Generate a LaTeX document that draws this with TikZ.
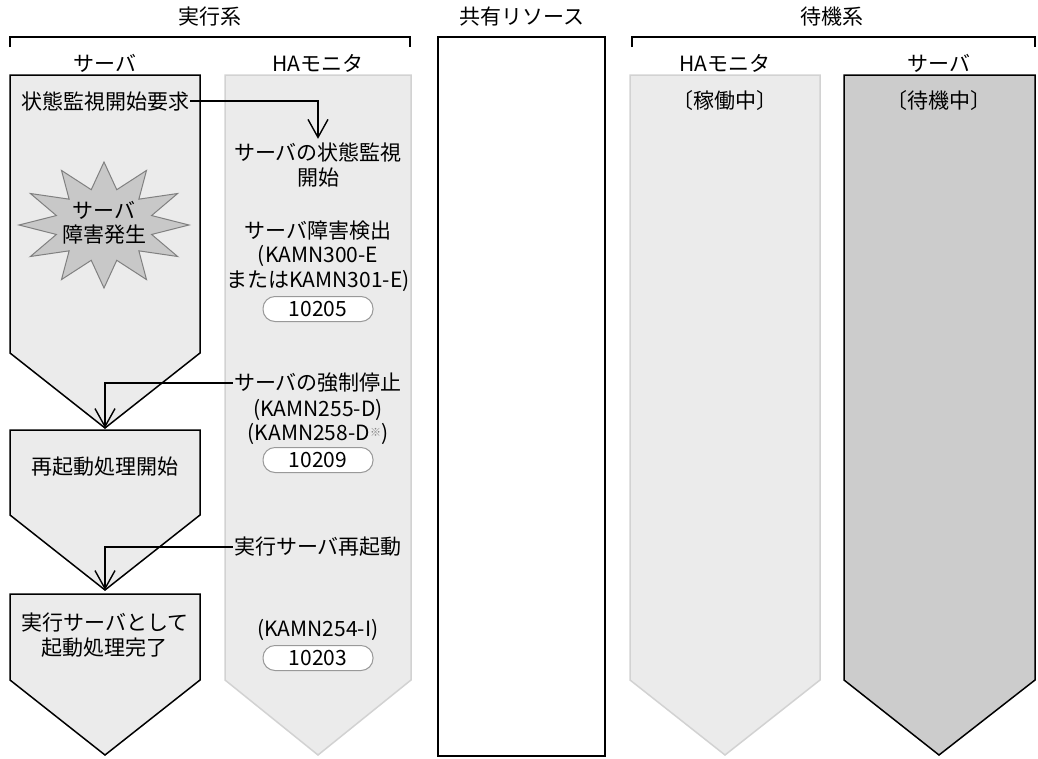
\documentclass[tikz,border=0pt]{standalone}
\usepackage{fontspec}
\setmainfont{Noto Sans CJK JP}
\usetikzlibrary{arrows.meta,positioning}
\definecolor{PaleGray}{RGB}{235,235,235}
\definecolor{EdgeGray}{RGB}{210,210,210}
\definecolor{WaitGray}{RGB}{204,204,204}
\definecolor{BurstGray}{RGB}{200,200,200}

\begin{document}
\begin{tikzpicture}[x=1pt,y=-1pt,>={Straight Barb[length=18pt,width=20pt]},
    font=\fontsize{21}{24.5}\selectfont,
    lbl/.style={inner sep=1pt,align=center},
    pill/.style={draw=gray!80,line width=1pt,fill=white,rounded corners=12pt,
      minimum width=110pt,minimum height=25pt,inner sep=0pt},
    flow/.style={line width=1.4pt},
    srvbox/.style={draw=black,line width=1.5pt,fill=PaleGray},
    monbox/.style={draw=EdgeGray,line width=1.5pt,fill=PaleGray},
    burst/.style={draw=gray,line width=1pt,fill=BurstGray}]
  \useasboundingbox (0,0) rectangle (1038,758);

  % titles and brackets
  \node[lbl] (act) at (210,17) {実行系};
  \node[lbl] (shr) at (522,17) {共有リソース};
  \node[lbl] (sby) at (832,17) {待機系};
  \draw[flow] (10,47) |- (410,37) -- (410,47);
  \draw[flow] (632,47) |- (1035,37) -- (1035,47);

  % columns
  \draw[srvbox] (10,75) -- (200,75) -- (200,353) -- (105,428) -- (10,353) -- cycle;
  \draw[srvbox] (10,430) -- (200,430) -- (200,515) -- (105,590) -- (10,515) -- cycle;
  \draw[srvbox] (10,594) -- (200,594) -- (200,680) -- (105,755) -- (10,680) -- cycle;
  \draw[monbox] (225,75) -- (411,75) -- (411,680) -- (318,755) -- (225,680) -- cycle;
  \draw[flow,fill=white] (438,37) rectangle (605,756);
  \draw[monbox] (630,75) -- (820,75) -- (820,680) -- (725,755) -- (630,680) -- cycle;
  \draw[srvbox,fill=WaitGray] (844,75) -- (1035,75) -- (1035,680) -- (939,755) -- (844,680) -- cycle;
  \coordinate (tip1) at (105,428);
  \coordinate (tip2) at (105,590);

  % server burst
  \draw[burst,shift={(104,225)}] (0:85 and 63)
    \foreach \i [evaluate=\i as \r using {int(mod(\i,2))==0?1:0.58}] in {1,...,23}
      { -- ({\i*15}:{85*\r} and {63*\r}) } -- cycle;

  % active side
  \node[lbl] (srvh) at (105,63) {サーバ};
  \node[lbl] (monh) at (318,63) {HAモニタ};
  \node[lbl] (req) at (105,101) {状態監視開始要求};
  \node[lbl] (fail) at (104,223) {サーバ\\障害発生};
  \node[lbl] (reboot) at (105,467) {再起動処理開始};
  \node[lbl] (done) at (105,635) {実行サーバとして\\起動処理完了};

  \node[lbl] (mon) at (318,165) {サーバの状態監視\\開始};
  \node[lbl] (detect) at (318,256) {サーバ障害検出\\(KAMN300-E\\またはKAMN301-E)};
  \node[pill] (m10205) at (318,309) {10205};
  \node[lbl] (stop) at (318,383) {サーバの強制停止};
  \node[lbl] (stopmsg) at (318,422) {(KAMN255-D)\\(KAMN258-D{\fontsize{11}{11}\selectfont\raisebox{0.8ex}{\color{gray}※}})};
  \node[pill] (m10209) at (318,460) {10209};
  \node[lbl] (restart) at (318,547) {実行サーバ再起動};
  \node[lbl] (startmsg) at (318,630) {(KAMN254-I)};
  \node[pill] (m10203) at (318,658) {10203};

  % standby side
  \node[lbl] (smonh) at (725,63) {HAモニタ};
  \node[lbl] (ssrvh) at (939,63) {サーバ};
  \node[lbl] (smon) at (725,101) {〔稼働中〕};
  \node[lbl] (ssrv) at (939,101) {〔待機中〕};

  % connectors
  \draw[flow,->] (req.east) -| ([yshift=3pt]mon.north);
  \draw[flow,->] (stop.west) -| (tip1);
  \draw[flow,->] (restart.west) -| (tip2);
\end{tikzpicture}
\end{document}
